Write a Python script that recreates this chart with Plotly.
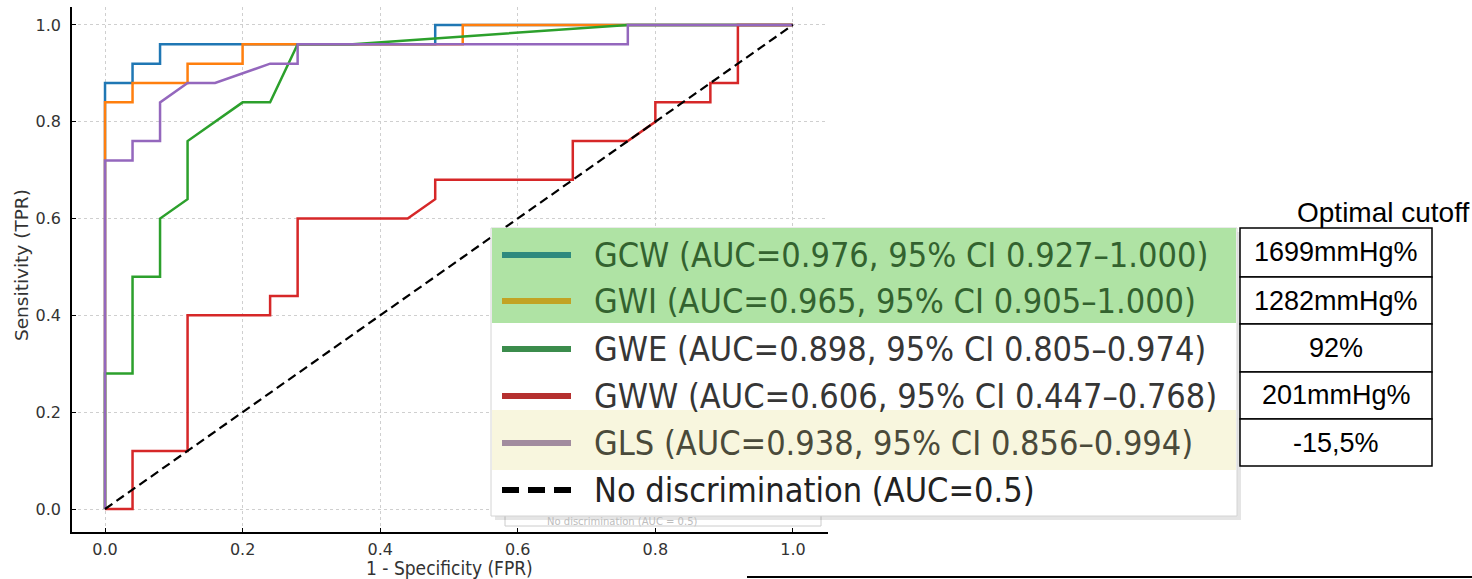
import plotly.graph_objects as go

W, H = 1472, 579

# ROC curves (FPR, TPR)
gcw_fpr = [0, 0, 0.04, 0.04, 0.08, 0.08, 0.48, 0.48, 1.0]
gcw_tpr = [0, 0.88, 0.88, 0.92, 0.92, 0.96, 0.96, 1.0, 1.0]

gwi_fpr = [0, 0, 0.04, 0.04, 0.12, 0.12, 0.20, 0.20, 0.52, 0.52, 1.0]
gwi_tpr = [0, 0.84, 0.84, 0.88, 0.88, 0.92, 0.92, 0.96, 0.96, 1.0, 1.0]

gwe_fpr = [0, 0, 0.04, 0.04, 0.08, 0.08, 0.12, 0.12, 0.20, 0.24, 0.28, 0.36, 0.76, 1.0]
gwe_tpr = [0, 0.28, 0.28, 0.48, 0.48, 0.60, 0.64, 0.76, 0.84, 0.84, 0.96, 0.96, 1.0, 1.0]

gww_fpr = [0, 0.04, 0.04, 0.12, 0.12, 0.24, 0.24, 0.28, 0.28, 0.44, 0.48, 0.48,
           0.68, 0.68, 0.76, 0.80, 0.80, 0.88, 0.88, 0.92, 0.92, 1.0]
gww_tpr = [0, 0, 0.12, 0.12, 0.40, 0.40, 0.44, 0.44, 0.60, 0.60, 0.64, 0.68,
           0.68, 0.76, 0.76, 0.80, 0.84, 0.84, 0.88, 0.88, 1.0, 1.0]

gls_fpr = [0, 0, 0.04, 0.04, 0.08, 0.08, 0.12, 0.16, 0.24, 0.28, 0.28, 0.76, 0.76, 1.0]
gls_tpr = [0, 0.72, 0.72, 0.76, 0.76, 0.84, 0.88, 0.88, 0.92, 0.92, 0.96, 0.96, 1.0, 1.0]

names = ["GCW", "GWI", "GWE", "GWW", "GLS"]
auc = ["0.976", "0.965", "0.898", "0.606", "0.938"]
ci_lo = ["0.927", "0.905", "0.805", "0.447", "0.856"]
ci_hi = ["1.000", "1.000", "0.974", "0.768", "0.994"]
cutoffs = ["1699mmHg%", "1282mmHg%", "92%", "201mmHg%", "-15,5%"]

line_colors = ["#1f77b4", "#ff7f0e", "#2ca02c", "#d62728", "#9467bd"]
# legend (pasted picture) colours
handle_colors = ["#2e8a7e", "#c2a324", "#3b8c4c", "#b5302f", "#a28c9e"]
text_colors = ["#33622f", "#33622f", "#363636", "#363636", "#4a4a3a"]
row_bg = ["#afe3a4", "#ffffff", "#f8f6de"]


def px(x):
    return x / W


def py(y):
    return 1 - y / H


fig = go.Figure()
curves = [(gcw_fpr, gcw_tpr), (gwi_fpr, gwi_tpr), (gwe_fpr, gwe_tpr),
          (gww_fpr, gww_tpr), (gls_fpr, gls_tpr)]
for (fx, ty), n, c in zip(curves, names, line_colors):
    fig.add_trace(go.Scatter(x=fx, y=ty, mode="lines", name=n,
                             line=dict(color=c, width=2.5), showlegend=False))
fig.add_trace(go.Scatter(x=[0, 1], y=[0, 1], mode="lines", showlegend=False,
                         line=dict(color="black", width=2.2, dash="9px,5px")))

axis_common = dict(showline=True, linecolor="black", linewidth=1.5, mirror=False,
                   showgrid=True, gridcolor="#cfcfcf", griddash="dot", gridwidth=1,
                   ticks="inside", ticklen=4, tickcolor="black", zeroline=False,
                   tickfont=dict(family="DejaVu Sans", size=16, color="#333"),
                   tickvals=[0, 0.2, 0.4, 0.6, 0.8, 1.0],
                   ticktext=["0.0", "0.2", "0.4", "0.6", "0.8", "1.0"])
fig.update_xaxes(domain=[px(72), px(828)], range=[-0.048, 1.051],
                 ticklabelstandoff=2, **axis_common)
fig.update_yaxes(domain=[py(532), py(7)], range=[-0.0475, 1.037],
                 ticklabelstandoff=6, **axis_common)

shapes = []
ann = []

# axis titles
ann.append(dict(x=px(449), y=py(568), xref="paper", yref="paper", showarrow=False,
                text="1 - Specificity (FPR)", xanchor="center", yanchor="middle",
                font=dict(family="DejaVu Sans Condensed, DejaVu Sans", size=19, color="#333")))
ann.append(dict(x=px(22), y=py(265), xref="paper", yref="paper", showarrow=False,
                text="Sensitivity (TPR)", textangle=-90, xanchor="center", yanchor="middle",
                font=dict(family="DejaVu Sans", size=18.5, color="#333")))

# remnant of the original small legend
shapes.append(dict(type="rect", xref="paper", yref="paper", x0=px(505), x1=px(821),
                   y0=py(526), y1=py(498), line=dict(color="#cccccc", width=1),
                   fillcolor="white", layer="above"))
ann.append(dict(x=px(545), y=py(521), xref="paper", yref="paper", showarrow=False,
                text="No discrimination (AUC = 0.5)", xanchor="left", yanchor="middle",
                font=dict(family="DejaVu Sans", size=10, color="#bdbdbd")))

# big legend picture
L, R, T, B = 491, 1237, 228, 516
shapes.append(dict(type="rect", xref="paper", yref="paper", x0=px(L + 4), x1=px(R + 4),
                   y0=py(B + 4), y1=py(T + 4), line=dict(width=0),
                   fillcolor="rgba(0,0,0,0.10)", layer="above"))
shapes.append(dict(type="rect", xref="paper", yref="paper", x0=px(L), x1=px(R),
                   y0=py(B), y1=py(T), line=dict(color="#d4d4d4", width=1),
                   fillcolor="white", layer="above"))
bands = [(228, 323), (323, 410), (410, 470)]
for (top, bot), bg in zip(bands, row_bg):
    shapes.append(dict(type="rect", xref="paper", yref="paper", x0=px(L + 1), x1=px(R - 1),
                       y0=py(bot), y1=py(top), line=dict(width=0),
                       fillcolor=bg, layer="above"))

row_y = [255, 301, 349, 396, 443, 490]
for i in range(5):
    shapes.append(dict(type="line", xref="paper", yref="paper", x0=px(502), x1=px(571),
                       y0=py(row_y[i]), y1=py(row_y[i]),
                       line=dict(color=handle_colors[i], width=6), layer="above"))
    label = f"{names[i]} (AUC={auc[i]}, 95% CI {ci_lo[i]}\u2013{ci_hi[i]})"
    ann.append(dict(x=px(592), y=py(row_y[i]), xref="paper", yref="paper", showarrow=False,
                    text=label, xanchor="left", yanchor="middle",
                    font=dict(family="DejaVu Sans Condensed, DejaVu Sans", size=34,
                              color=text_colors[i])))
shapes.append(dict(type="line", xref="paper", yref="paper", x0=px(502), x1=px(573),
                   y0=py(row_y[5]), y1=py(row_y[5]),
                   line=dict(color="black", width=6, dash="17px,9px"), layer="above"))
ann.append(dict(x=px(592), y=py(row_y[5]), xref="paper", yref="paper", showarrow=False,
                text="No discrimination (AUC=0.5)", xanchor="left", yanchor="middle",
                font=dict(family="DejaVu Sans Condensed, DejaVu Sans", size=34, color="#222")))

# cutoff table
ann.append(dict(x=px(1383), y=py(213), xref="paper", yref="paper", showarrow=False,
                text="Optimal cutoff", xanchor="center", yanchor="middle",
                font=dict(family="Arial", size=28, color="black")))
cell_edges = [228, 277, 324, 372, 419, 466]
for i, v in enumerate(cutoffs):
    shapes.append(dict(type="rect", xref="paper", yref="paper", x0=px(1240), x1=px(1432),
                       y0=py(cell_edges[i + 1]), y1=py(cell_edges[i]),
                       line=dict(color="black", width=1.5), fillcolor="white", layer="above"))
    ann.append(dict(x=px(1336), y=py((cell_edges[i] + cell_edges[i + 1]) / 2),
                    xref="paper", yref="paper", showarrow=False, text=v,
                    xanchor="center", yanchor="middle",
                    font=dict(family="Arial", size=27, color="black")))

shapes.append(dict(type="line", xref="paper", yref="paper", x0=px(747), x1=px(1472),
                   y0=py(577), y1=py(577), line=dict(color="black", width=2), layer="above"))

fig.update_layout(width=W, height=H, margin=dict(l=0, r=0, t=0, b=0),
                  paper_bgcolor="white", plot_bgcolor="white",
                  shapes=shapes, annotations=ann, showlegend=False)

# page body has a default 8px margin; drop it so the figure sits at the corner
fig.write_html("out.html", config={"displayModeBar": False},
               post_script="document.body.style.margin='0';document.body.style.overflow='hidden';")
